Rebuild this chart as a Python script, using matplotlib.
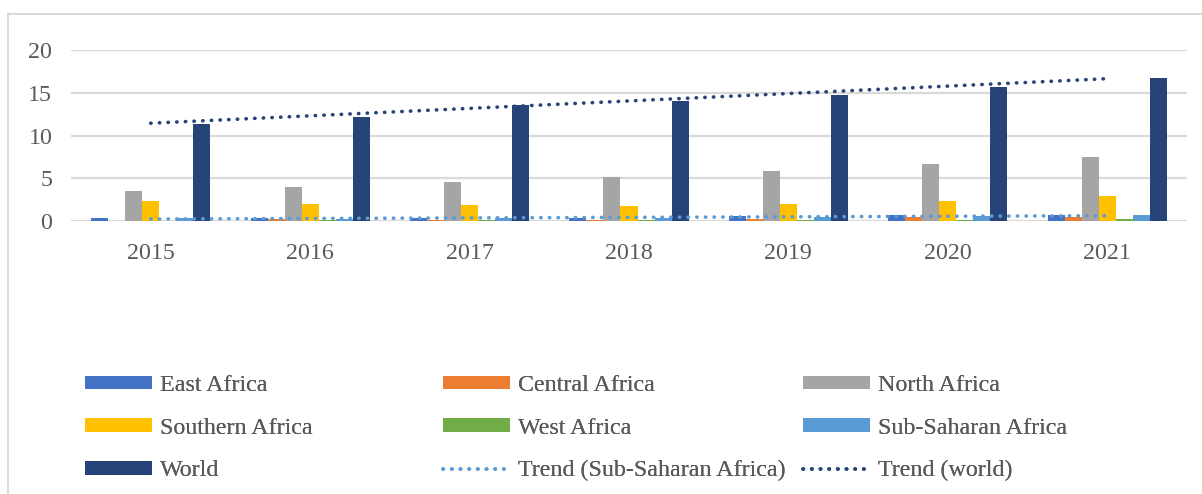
import numpy as np
import matplotlib
matplotlib.use("Agg")
import matplotlib.pyplot as plt
from matplotlib.patches import Patch
from matplotlib.lines import Line2D

years = ["2015", "2016", "2017", "2018", "2019", "2020", "2021"]
east_africa = [0.35, 0.30, 0.39, 0.39, 0.55, 0.66, 0.74]
central_africa = [0.05, 0.18, 0.15, 0.15, 0.20, 0.47, 0.43]
north_africa = [3.48, 3.95, 4.52, 5.09, 5.84, 6.62, 7.44]
southern_africa = [2.30, 2.00, 1.83, 1.80, 2.00, 2.39, 2.90]
west_africa = [0.05, 0.08, 0.08, 0.10, 0.12, 0.10, 0.18]
sub_saharan = [0.30, 0.28, 0.33, 0.38, 0.45, 0.58, 0.66]
world = [11.37, 12.15, 13.59, 14.06, 14.69, 15.67, 16.76]

series_names = ["East Africa", "Central Africa", "North Africa", "Southern Africa",
                "West Africa", "Sub-Saharan Africa", "World"]
series_vals = [east_africa, central_africa, north_africa, southern_africa,
               west_africa, sub_saharan, world]
colors = ["#4472C4", "#ED7D31", "#A5A5A5", "#FFC000", "#70AD47", "#5B9BD5", "#264478"]

plt.rcParams['font.family'] = ['Liberation Serif', 'DejaVu Serif']
txt_color = "#595959"
fs = 17.3

fig = plt.figure(figsize=(12.02, 4.94), dpi=100)
ax = fig.add_axes([71/1202, 1 - 221/494, (1187 - 71)/1202, (221 - 50)/494])

x = np.arange(len(years))
w = 0.1067
for i, (name, vals, c) in enumerate(zip(series_names, series_vals, colors)):
    ax.bar(x + (i - 3) * w, vals, width=w, color=c, zorder=3, label=name)

# trend lines (linear fits)
dot = dict(linestyle=(0, (0.1, 2.3)), dash_capstyle='round', linewidth=2.6, zorder=4)
for vals, c in [(sub_saharan, "#5B9BD5"), (world, "#264478")]:
    p = np.polyfit(x, vals, 1)
    ax.plot(x, np.polyval(p, x), color=c, **dot)

ax.set_xlim(-0.5, 6.5)
ax.set_ylim(0, 20)
ax.set_yticks([0, 5, 10, 15, 20])
ax.set_xticks(x)
ax.set_xticklabels(years)
ax.yaxis.grid(True, color="#D9D9D9", linewidth=1.6, zorder=0)
ax.set_axisbelow(True)
for s in ax.spines.values():
    s.set_visible(False)
ax.tick_params(axis='both', length=0, labelsize=fs, labelcolor=txt_color)
ax.tick_params(axis='y', pad=13.5)
ax.tick_params(axis='x', pad=16)

# outer chart border (top & left)
fig.add_artist(Line2D([8/1202, 1.0], [1 - 14.5/494, 1 - 14.5/494], color="#D9D9D9",
                      linewidth=1.4, transform=fig.transFigure))
fig.add_artist(Line2D([8/1202, 8/1202], [1 - 14.5/494, 0], color="#D9D9D9",
                      linewidth=1.4, transform=fig.transFigure))

# legend: three columns placed manually
def patch(c):
    return Patch(facecolor=c, edgecolor='none')

def dline(c):
    return Line2D([], [], color=c, linestyle=(0, (0.1, 2.3)), dash_capstyle='round', linewidth=2.6)

cols = [
    ([patch(colors[0]), patch(colors[3]), patch(colors[6])],
     ["East Africa", "Southern Africa", "World"], 85),
    ([patch(colors[1]), patch(colors[4]), dline("#5B9BD5")],
     ["Central Africa", "West Africa", "Trend (Sub-Saharan Africa)"], 443),
    ([patch(colors[2]), patch(colors[5]), dline("#264478")],
     ["North Africa", "Sub-Saharan Africa", "Trend (world)"], 803),
]
for handles, labels, xpx in cols:
    leg = fig.legend(handles, labels, loc='upper left',
                     bbox_to_anchor=(xpx/1202, 1 - 375/494), frameon=False,
                     fontsize=fs, handlelength=2.8, handleheight=0.5,
                     handletextpad=0.33, labelspacing=0.9, borderpad=0,
                     borderaxespad=0, labelcolor=txt_color)
    fig.add_artist(leg)

fig.savefig("out.png", dpi=100)
